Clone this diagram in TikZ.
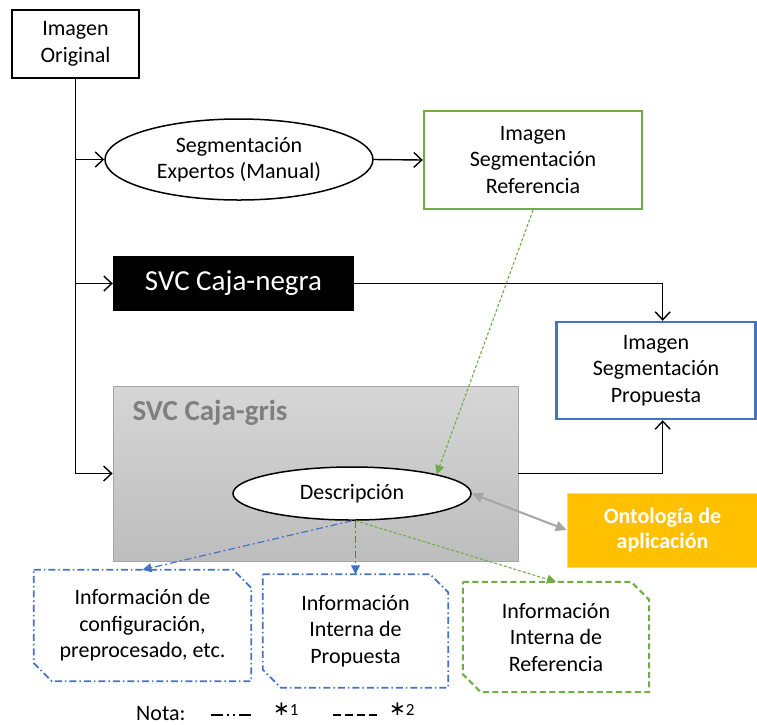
\documentclass[tikz,border=0pt]{standalone}
\usepackage{fontspec}
\setmainfont{Carlito}
\newfontfamily\symbolfont{DejaVu Sans}
\usetikzlibrary{arrows.meta,shapes.geometric}

\definecolor{refgreen}{HTML}{70AD47}
\definecolor{propblue}{HTML}{4472C4}
\definecolor{ontogold}{HTML}{FFC000}
\definecolor{boxgrayA}{HTML}{D6D6D6}
\definecolor{boxgrayB}{HTML}{BDBDBD}
\definecolor{titlegray}{HTML}{7F7F7F}
\definecolor{linkgray}{HTML}{A6A6A6}

% frame with the top-right and bottom-left corners cut off
\newcommand\snipframe[2]{%
  \draw[#2] (#1.north west) -- ([xshift=-18pt]#1.north east)
    -- ([yshift=-18pt]#1.north east) -- (#1.south east)
    -- ([xshift=18pt]#1.south west) -- ([yshift=18pt]#1.south west) -- cycle;}

\tikzset{
  txt/.style={font=\fontsize{22}{26.5}\selectfont, align=center},
  framebox/.style={txt, draw, rectangle, inner sep=0pt},
  oval/.style={txt, draw, ellipse, fill=white, line width=1.5pt, inner sep=0pt},
  conn/.style={line width=1.4pt, -{Straight Barb[length=8pt,width=15pt,line width=1.4pt]}},
  blueflow/.style={propblue, line width=1.2pt,
    dash pattern=on 7pt off 3pt on 2pt off 3pt,
    -{Triangle[length=9pt,width=9pt]}},
  greenflow/.style={refgreen, line width=1.1pt,
    dash pattern=on 3pt off 2pt,
    -{Triangle[length=9pt,width=9pt]}},
  blueframe/.style={propblue, line width=1.8pt,
    dash pattern=on 7pt off 3pt on 1.5pt off 3pt},
  greenframe/.style={refgreen, line width=2pt,
    dash pattern=on 6pt off 3.5pt},
  infobox/.style={txt, rectangle, inner sep=0pt},
  markfont/.style={anchor=base west, inner sep=0pt},
}

\newcommand\notemark[1]{{\symbolfont\fontsize{20}{20}\selectfont ∗}{\fontsize{17}{20}\selectfont #1}}

\begin{document}
\begin{tikzpicture}[x=1pt,y=-1pt]
\useasboundingbox (0,0) rectangle (757,724);

% main blocks
\node[framebox, line width=2.2pt, minimum width=127, minimum height=68]
  (orig) at (75.5,44) {Imagen\\Original};
\node[oval, minimum width=268, minimum height=81]
  (seg) at (239,159.5) {Segmentación\\Expertos (Manual)};
\node[framebox, draw=refgreen, line width=2.4pt, minimum width=218, minimum height=98]
  (ref) at (533,160) {Imagen\\Segmentación\\Referencia};
\node[rectangle, fill=black, text=white, font=\fontsize{29}{34}\selectfont,
  minimum width=241, minimum height=55, inner sep=0pt]
  (negra) at (233.5,283.5) {SVC Caja-negra};
\node[framebox, draw=propblue, line width=2.4pt, minimum width=199, minimum height=97]
  (prop) at (656,370.5) {Imagen\\Segmentación\\Propuesta};

% grey-box system with its description
\node[rectangle, top color=boxgrayA, bottom color=boxgrayB, draw=linkgray,
  line width=0.8pt, minimum width=405, minimum height=175, inner sep=0pt]
  (gris) at (315.5,473.5) {};
\node[anchor=west, text=titlegray, font=\fontsize{29}{34}\selectfont\bfseries]
  (gristitle) at (129,413) {SVC Caja-gris};
\node[oval, minimum width=238, minimum height=53]
  (desc) at (352,493.5) {Descripción};

\node[rectangle, fill=ontogold, draw=white!85!black, line width=0.6pt,
  text=white, font=\fontsize{22}{25.5}\selectfont\bfseries, align=center,
  minimum width=191, minimum height=74, inner sep=0pt]
  (onto) at (662.5,530) {Ontología de\\aplicación};

% information boxes
\node[infobox, minimum width=217, minimum height=111]
  (info1) at (142.5,625.5) {Información de\\configuración,\\preprocesado, etc.};
\node[infobox, minimum width=185, minimum height=113]
  (info2) at (355.5,631) {Información\\Interna de\\Propuesta};
\node[infobox, minimum width=186, minimum height=110]
  (info3) at (556,637) {Información\\Interna de\\Referencia};
\snipframe{info1}{blueframe}
\snipframe{info2}{blueframe}
\snipframe{info3}{greenframe}

% trunk and branches from the original image
\draw[conn] (orig.south) |- (gris.west);
\draw[conn] (orig.south |- seg.west) -- (seg.west);
\draw[conn] (orig.south |- negra.west) -- (negra.west);
\draw[conn] (seg.east) -- (ref.west);
\draw[conn] (negra.east) -| ([xshift=6.7pt]prop.north);
\draw[conn] (gris.east) -| ([xshift=6.7pt]prop.south);

% reference and description links
\draw[greenflow] (ref.south) -- (desc.north east);
\draw[linkgray, line width=2pt,
  {Triangle[length=11pt,width=10pt]}-{Triangle[length=11pt,width=10pt]}]
  (desc.east) -- (onto.west);
\draw[blueflow] (desc.south) -- (info1.north);
\draw[blueflow] (info2.north |- desc.south) -- (info2.north);
\draw[greenflow] (info2.north |- desc.south) -- (info3.north);

% legend
\node[markfont, font=\fontsize{22}{26}\selectfont]
  (nota) at (136,720) {Nota:};
\coordinate (l1a) at (211,715);
\coordinate (l1b) at (251,715);
\draw[line width=1.2pt, dash pattern=on 12pt off 4pt on 2pt off 4pt on 2pt off 4pt on 12pt]
  (l1a) -- (l1b);
\node[markfont] (mark1) at (273,715) {\notemark{1}};
\coordinate (l2a) at (333,715);
\coordinate (l2b) at (377,715);
\draw[line width=1.2pt, dash pattern=on 8pt off 4pt] (l2a) -- (l2b);
\node[markfont] (mark2) at (389,715) {\notemark{2}};
\end{tikzpicture}
\end{document}
